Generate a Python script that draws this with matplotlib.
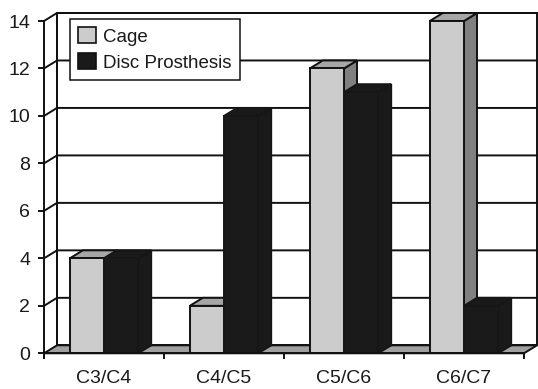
import matplotlib
matplotlib.use('Agg')
import matplotlib.pyplot as plt
from matplotlib.patches import Polygon, Patch
from matplotlib.lines import Line2D

categories = ['C3/C4', 'C4/C5', 'C5/C6', 'C6/C7']
cage = [4, 2, 12, 14]
disc = [4, 10, 11, 2]
yticks = [0, 2, 4, 6, 8, 10, 12, 14]
series_names = ['Cage', 'Disc Prosthesis']

plt.rcParams['font.family'] = ['Liberation Sans', 'DejaVu Sans']

W, H = 538, 389
fig = plt.figure(figsize=(W / 100, H / 100), dpi=100)
fig.patch.set_facecolor('white')
ax = fig.add_axes([44 / W, (H - 353.3) / H, 480 / W, (353.3 - 21) / H])
n = len(categories)
ymax = yticks[-1]
ax.set_xlim(0, n)
ax.set_ylim(0, ymax)
ax.set_facecolor('none')

DX = 13 / 120
DY = 8 / 23.74
LW = 1.4
EC = '#111111'
BW = 0.285

# back wall
ax.add_patch(Polygon([(DX, DY), (n + DX, DY), (n + DX, ymax + DY), (DX, ymax + DY)],
                     closed=True, fc='white', ec=EC, lw=LW, clip_on=False, zorder=1))
# gridlines (side wall + back wall)
for y in yticks[1:]:
    ax.add_line(Line2D([0, DX, n + DX], [y, y + DY, y + DY], color=EC, lw=LW,
                       clip_on=False, zorder=1.5))
ax.add_line(Line2D([DX, DX], [DY, ymax + DY], color=EC, lw=LW, clip_on=False, zorder=1.5))
# floor
ax.add_patch(Polygon([(0, 0), (n, 0), (n + DX, DY), (DX, DY)], closed=True,
                     fc='#a0a0a0', ec=EC, lw=LW, clip_on=False, zorder=2))


def draw_bars(xs, vals, front, top, side, ec, z):
    ax.bar(xs, vals, width=BW, align='edge', color=front, edgecolor=ec, lw=LW,
           zorder=z + 0.2, clip_on=False)
    for x0, v in zip(xs, vals):
        x1 = x0 + BW
        ax.add_patch(Polygon([(x1, 0), (x1 + DX, DY), (x1 + DX, v + DY), (x1, v)],
                             closed=True, fc=side, ec=ec, lw=LW, clip_on=False, zorder=z))
        ax.add_patch(Polygon([(x0, v), (x1, v), (x1 + DX, v + DY), (x0 + DX, v + DY)],
                             closed=True, fc=top, ec=ec, lw=LW, clip_on=False, zorder=z + 0.1))


cage_x = [i + 0.5 - BW for i in range(n)]
disc_x = [i + 0.5 for i in range(n)]
draw_bars(cage_x, cage, '#cccccc', '#a6a6a6', '#808080', EC, 3)
draw_bars(disc_x, disc, '#1a1a1a', '#1a1a1a', '#1a1a1a', '#161616', 4)

# axes
for s in ['top', 'right']:
    ax.spines[s].set_visible(False)
for s in ['left', 'bottom']:
    ax.spines[s].set_color(EC)
    ax.spines[s].set_linewidth(LW)
    ax.spines[s].set_zorder(6)
ax.set_yticks(yticks)
ax.set_yticklabels([str(t) for t in yticks])
ax.set_xticks(range(n + 1))
ax.set_xticklabels([''] * (n + 1))
ax.set_xticks([i + 0.5 for i in range(n)], minor=True)
ax.set_xticklabels(categories, minor=True)
ax.tick_params(axis='y', direction='out', length=4, width=LW, color=EC, pad=6,
               labelsize=14, labelcolor='#1a1a1a')
ax.tick_params(axis='x', which='major', direction='out', length=4, width=LW, color=EC)
ax.tick_params(axis='x', which='minor', length=0, pad=12, labelsize=14, labelcolor='#1a1a1a')

handles = [Patch(fc='#cccccc', ec=EC, lw=1.2), Patch(fc='#1a1a1a', ec=EC, lw=1.2)]
leg = ax.legend(handles, series_names, loc='upper left',
                bbox_to_anchor=(70 / W, 1 - 19 / H), bbox_transform=fig.transFigure,
                borderaxespad=0, fancybox=False, framealpha=1, edgecolor=EC,
                fontsize=13.5, handlelength=0.92, handleheight=0.88, handletextpad=0.4,
                labelspacing=0.42, borderpad=0.45)
leg.get_frame().set_linewidth(1.1)
leg.set_zorder(10)
for t in leg.get_texts():
    t.set_color('#1a1a1a')

fig.savefig('out.png', dpi=100, facecolor='white')
